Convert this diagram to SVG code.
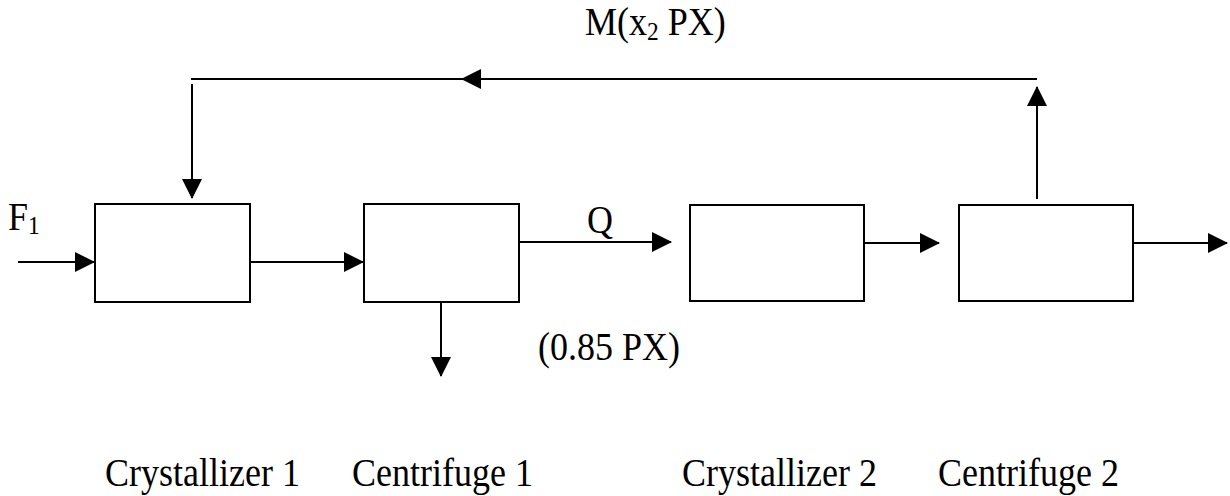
<svg xmlns="http://www.w3.org/2000/svg" width="1230" height="496" viewBox="0 0 1230 496">
<style>
.box{fill:#fff;stroke:#000;stroke-width:2}
.ln{fill:none;stroke:#000;stroke-width:2}
.t{font-family:"Liberation Serif","Times New Roman",serif;font-size:40px;fill:#000}
.sub{font-size:26px}
</style>
<defs>
<marker id="ah" markerUnits="userSpaceOnUse" markerWidth="20" markerHeight="20" refX="19" refY="10" orient="auto">
<path d="M0,0 L20,10 L0,20 z" fill="#000"/>
</marker>
</defs>
<rect width="1230" height="496" fill="#fff"/>
<g id="connectors">
<path class="ln" d="M18,262 H94" marker-end="url(#ah)"/>
<path class="ln" d="M250,262 H363" marker-end="url(#ah)"/>
<path class="ln" d="M519,242 H671" marker-end="url(#ah)"/>
<path class="ln" d="M864,243 H939" marker-end="url(#ah)"/>
<path class="ln" d="M1133,243 H1227" marker-end="url(#ah)"/>
<path class="ln" d="M441,302 V376" marker-end="url(#ah)"/>
<path class="ln" d="M1037,199 V87" marker-end="url(#ah)"/>
<path class="ln" d="M1037,79 H462" marker-end="url(#ah)"/>
<path class="ln" d="M462,79 H191"/>
<path class="ln" d="M192,84 V198" marker-end="url(#ah)"/>
</g>
<g id="crystallizer1"><rect class="box" x="95" y="204" width="155" height="98"/></g>
<g id="centrifuge1"><rect class="box" x="364" y="204" width="155" height="98"/></g>
<g id="crystallizer2"><rect class="box" x="690" y="205" width="174" height="96"/></g>
<g id="centrifuge2"><rect class="box" x="959" y="205" width="174" height="96"/></g>
<g id="labels">
<text class="t" transform="translate(8,230) scale(0.9,1)">F<tspan class="sub" dy="4">1</tspan></text>
<text class="t" transform="translate(587,233) scale(0.9,1)">Q</text>
<text class="t" transform="translate(538,360) scale(0.9,1)">(0.85 PX)</text>
<text class="t" transform="translate(585,35) scale(0.9,1)">M(x<tspan class="sub" dy="5">2</tspan><tspan dy="-5"> PX)</tspan></text>
<text class="t" transform="translate(105,486) scale(0.9,1)">Crystallizer 1</text>
<text class="t" transform="translate(352,486) scale(0.9,1)">Centrifuge 1</text>
<text class="t" transform="translate(682,486) scale(0.9,1)">Crystallizer 2</text>
<text class="t" transform="translate(938,486) scale(0.9,1)">Centrifuge 2</text>
</g>
</svg>
